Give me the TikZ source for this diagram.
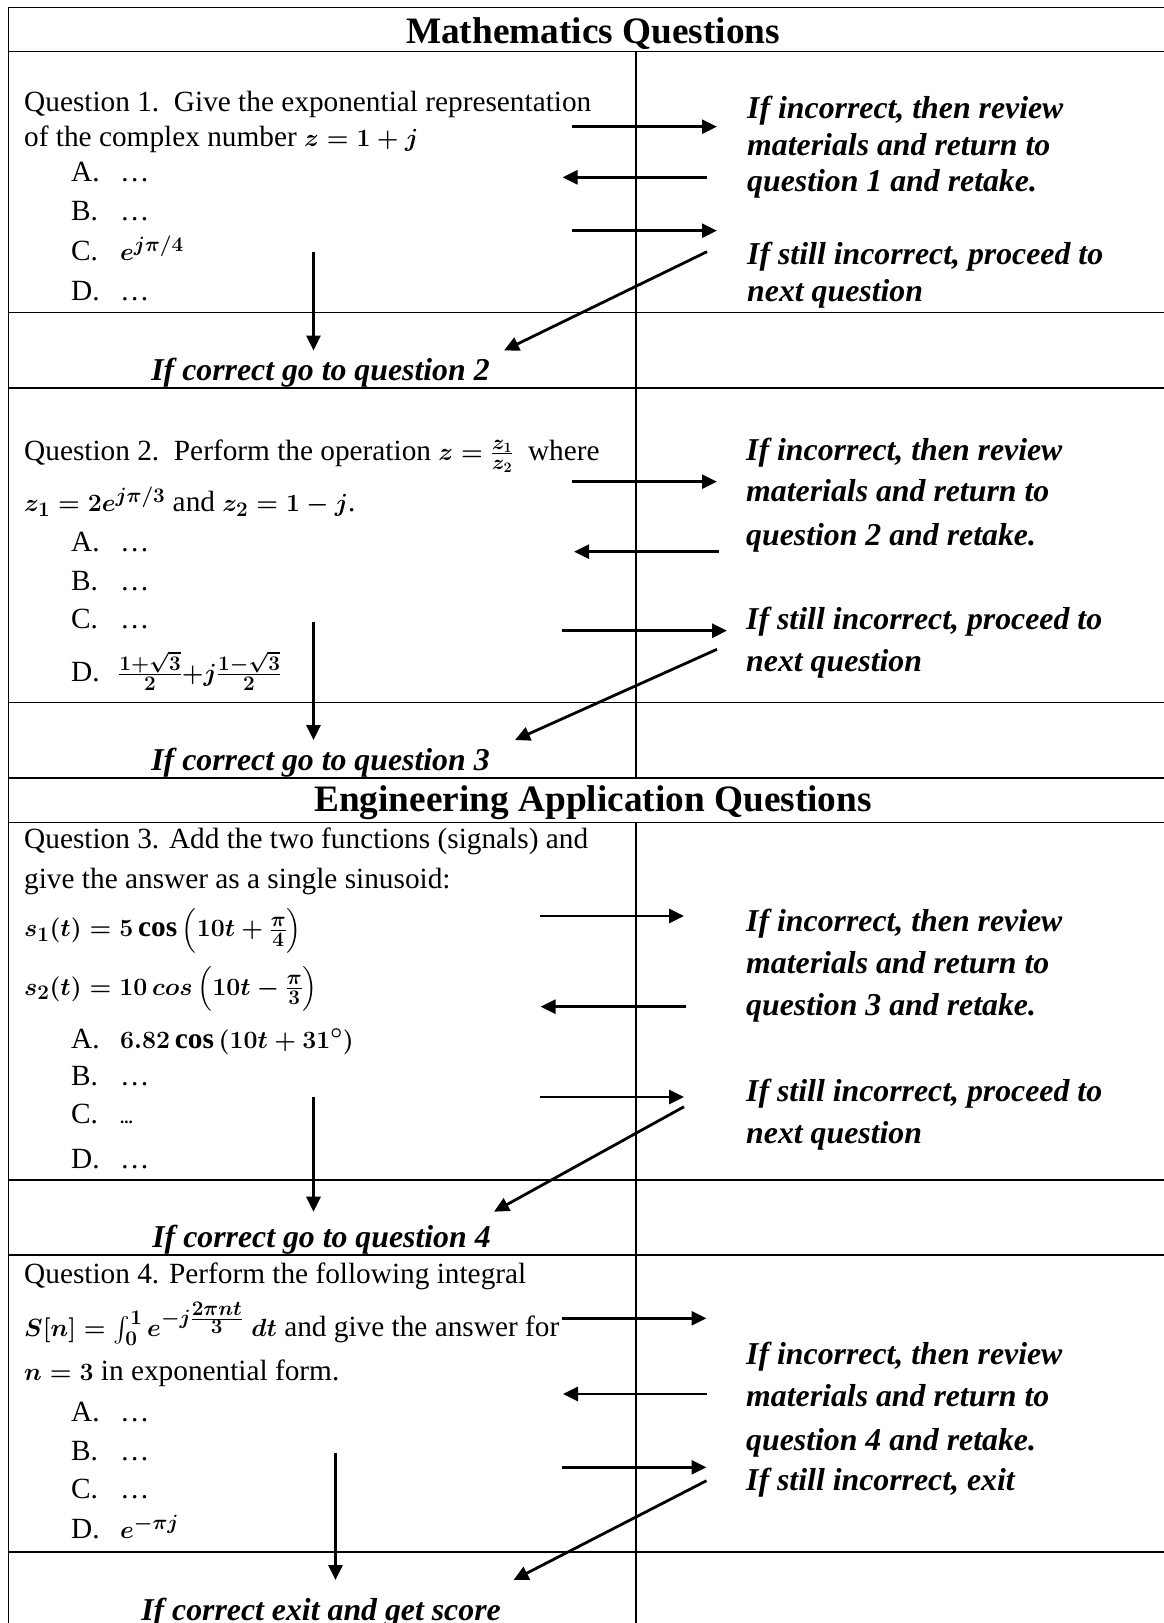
\documentclass[tikz,border=0pt]{standalone}
\usepackage{amsmath}
\usepackage{exscale}
\usepackage{fontspec}
\setmainfont{Liberation Serif}
\usetikzlibrary{arrows.meta}
\begin{document}
\begin{tikzpicture}[x=1pt,y=-1pt,
  grid/.style={line width=1.5pt},
  arr/.style={line width=2.8pt,-{Triangle[length=15pt,width=14pt]}},
  txt/.style={anchor=base west,inner sep=0pt,font=\fontsize{29.3}{34}\selectfont\boldmath},
  note/.style={anchor=base west,inner sep=0pt,font=\fontsize{31.8}{36}\selectfont\bfseries\itshape},
  goal/.style={anchor=base,inner sep=0pt,font=\fontsize{31.8}{36}\selectfont\bfseries\itshape},
  head/.style={anchor=base,inner sep=0pt,font=\fontsize{37.3}{40}\selectfont\bfseries}]
\useasboundingbox (0,0) rectangle (1164,1623);
% ---------- grid ----------
\draw[grid] (8.3,1623) -- (8.3,7.3) -- (1164,7.3);
\foreach \yy in {51.5,312.6,388,702.6,778,822.6,1180,1255,1552}
  \draw[grid] (8.3,\yy) -- (1164,\yy);
\draw[grid] (636,51.5) -- (636,778);
\draw[grid] (636,822.6) -- (636,1623);
% ---------- titles ----------
\node[head] (t1) at (593,43.5) {Mathematics Questions};
\node[head] (t2) at (593,811.5) {Engineering Application Questions};
% ---------- Question 1 ----------
\node[txt] (q1a) at (24,111.7) {Question 1.\ \ Give the exponential representation};
\node[txt] (q1b) at (24,146.7) {of the complex number $z = 1 + j$};
\node[txt] (q1A) at (71,181.7) {A.}; \node[txt] (q1Av) at (120,181.7) {\ldots};
\node[txt] (q1B) at (71,220) {B.}; \node[txt] (q1Bv) at (120,220) {\ldots};
\node[txt] (q1C) at (71,260.5) {C.}; \node[txt] (q1Cv) at (120,260.5) {$e^{j\pi/4}$};
\node[txt] (q1D) at (71,300) {D.}; \node[txt] (q1Dv) at (120,300) {\ldots};
\node[note] (n1a) at (747,118.3) {If incorrect, then review};
\node[note] (n1b) at (747,155) {materials and return to};
\node[note] (n1c) at (747,191) {question 1 and retake.};
\node[note] (n1d) at (747,264.3) {If still incorrect, proceed to};
\node[note] (n1e) at (747,301) {next question};
\node[goal] (g1) at (320.5,380) {If correct go to question 2};
\coordinate (a1s) at (572,126.7); \coordinate (a1e) at (717,126.7);
\coordinate (b1s) at (707,177.3); \coordinate (b1e) at (562.5,177.3);
\coordinate (c1s) at (572,230.7); \coordinate (c1e) at (717,230.7);
\coordinate (d1s) at (707,251.7); \coordinate (d1e) at (504,350.5);
\coordinate (e1s) at (313.5,251.7); \coordinate (e1e) at (313.5,350.5);
\draw[arr] (a1s) -- (a1e);
\draw[arr] (b1s) -- (b1e);
\draw[arr] (c1s) -- (c1e);
\draw[arr] (d1s) -- (d1e);
\draw[arr] (e1s) -- (e1e);
% ---------- Question 2 ----------
\node[txt] (q2a) at (24,460) {Question 2.\ \ Perform the operation $z = \frac{z_1}{z_2}$\ \ where};
\node[txt] (q2b) at (24,511.7) {$z_1 = 2e^{j\pi/3}$ and $z_2 = 1 - j$.};
\node[txt] (q2A) at (71,551.7) {A.}; \node[txt] (q2Av) at (120,551.7) {\ldots};
\node[txt] (q2B) at (71,590) {B.}; \node[txt] (q2Bv) at (120,590) {\ldots};
\node[txt] (q2C) at (71,628) {C.}; \node[txt] (q2Cv) at (120,628) {\ldots};
\node[txt] (q2D) at (71,681) {D.}; \node[txt] (q2Dv) at (118,681) {$\frac{1+\sqrt{3}}{2}{+}j\frac{1-\sqrt{3}}{2}$};
\node[note] (n2a) at (746,460) {If incorrect, then review};
\node[note] (n2b) at (746,501.7) {materials and return to};
\node[note] (n2c) at (746,545) {question 2 and retake.};
\node[note] (n2d) at (746,629.3) {If still incorrect, proceed to};
\node[note] (n2e) at (746,671) {next question};
\node[goal] (g2) at (320.5,770) {If correct go to question 3};
\coordinate (a2s) at (572,481.7); \coordinate (a2e) at (717,481.7);
\coordinate (b2s) at (718.5,551.7); \coordinate (b2e) at (574,551.7);
\coordinate (c2s) at (562,630.7); \coordinate (c2e) at (727,630.7);
\coordinate (d2s) at (717,649.3); \coordinate (d2e) at (515,740);
\coordinate (e2s) at (313.5,621.7); \coordinate (e2e) at (313.5,740);
\draw[arr] (a2s) -- (a2e);
\draw[arr] (b2s) -- (b2e);
\draw[arr] (c2s) -- (c2e);
\draw[arr] (d2s) -- (d2e);
\draw[arr] (e2s) -- (e2e);
% ---------- Question 3 ----------
\node[txt] (q3a) at (24,848.3) {Question 3. Add the two functions (signals) and};
\node[txt] (q3b) at (24,888.3) {give the answer as a single sinusoid:};
\node[txt] (q3c) at (24,936.7) {$s_1(t) = 5\cos\,\Bigl(10t+\frac{\pi}{4}\Bigr)$};
\node[txt] (q3d) at (24,995) {$s_2(t) = 10\,cos\,\Bigl(10t-\frac{\pi}{3}\Bigr)$};
\node[txt] (q3A) at (71,1048) {A.}; \node[txt] (q3Av) at (120,1048) {$6.82\cos\left(10t+31^{\circ}\right)$};
\node[txt] (q3B) at (71,1085) {B.}; \node[txt] (q3Bv) at (120,1085) {\ldots};
\node[txt] (q3C) at (71,1123.3) {C.}; \node[txt] (q3Cv) at (120,1123.3) {\fontsize{17}{20}\selectfont\bfseries ...};
\node[txt] (q3D) at (71,1168.3) {D.}; \node[txt] (q3Dv) at (120,1168.3) {\ldots};
\node[note] (n3a) at (746,931.7) {If incorrect, then review};
\node[note] (n3b) at (746,973.3) {materials and return to};
\node[note] (n3c) at (746,1015.5) {question 3 and retake.};
\node[note] (n3d) at (746,1101) {If still incorrect, proceed to};
\node[note] (n3e) at (746,1143) {next question};
\node[goal] (g3) at (321.5,1247.5) {If correct go to question 4};
\coordinate (a3s) at (539.7,916); \coordinate (a3e) at (684,916);
\coordinate (b3s) at (685.5,1006.7); \coordinate (b3e) at (540.5,1006.7);
\coordinate (c3s) at (539.7,1097); \coordinate (c3e) at (684,1097);
\coordinate (d3s) at (684,1106.7); \coordinate (d3e) at (494,1211.7);
\coordinate (e3s) at (313.5,1096.7); \coordinate (e3e) at (313.5,1211.7);
\draw[arr] (a3s) -- (a3e);
\draw[arr] (b3s) -- (b3e);
\draw[arr] (c3s) -- (c3e);
\draw[arr] (d3s) -- (d3e);
\draw[arr] (e3s) -- (e3e);
% ---------- Question 4 ----------
\node[txt] (q4a) at (24,1283) {Question 4. Perform the following integral};
\node[txt] (q4b) at (24,1336.7) {$S[n] = \int_0^1 e^{-j\frac{\scriptstyle 2\pi nt}{\scriptstyle 3}}\;dt$ and give the answer for};
\node[txt] (q4c) at (24,1380) {$n = 3$ in exponential form.};
\node[txt] (q4A) at (71,1421.7) {A.}; \node[txt] (q4Av) at (120,1421.7) {\ldots};
\node[txt] (q4B) at (71,1460) {B.}; \node[txt] (q4Bv) at (120,1460) {\ldots};
\node[txt] (q4C) at (71,1498.3) {C.}; \node[txt] (q4Cv) at (120,1498.3) {\ldots};
\node[txt] (q4D) at (71,1538.3) {D.}; \node[txt] (q4Dv) at (120,1538.3) {$e^{-\pi j}$};
\node[note] (n4a) at (746,1364.5) {If incorrect, then review};
\node[note] (n4b) at (746,1406.5) {materials and return to};
\node[note] (n4c) at (746,1450) {question 4 and retake.};
\node[note] (n4d) at (746,1490.5) {If still incorrect, exit};
\node[goal] (g4) at (321,1620) {If correct exit and get score};
\coordinate (a4s) at (562,1318.3); \coordinate (a4e) at (706.5,1318.3);
\coordinate (b4s) at (707,1394); \coordinate (b4e) at (563,1394);
\coordinate (c4s) at (562,1467.3); \coordinate (c4e) at (706.5,1467.3);
\coordinate (d4s) at (706.5,1480.7); \coordinate (d4e) at (513.5,1580);
\coordinate (e4s) at (335.5,1453); \coordinate (e4e) at (335.5,1580);
\draw[arr] (a4s) -- (a4e);
\draw[arr] (b4s) -- (b4e);
\draw[arr] (c4s) -- (c4e);
\draw[arr] (d4s) -- (d4e);
\draw[arr] (e4s) -- (e4e);
\end{tikzpicture}
\end{document}
